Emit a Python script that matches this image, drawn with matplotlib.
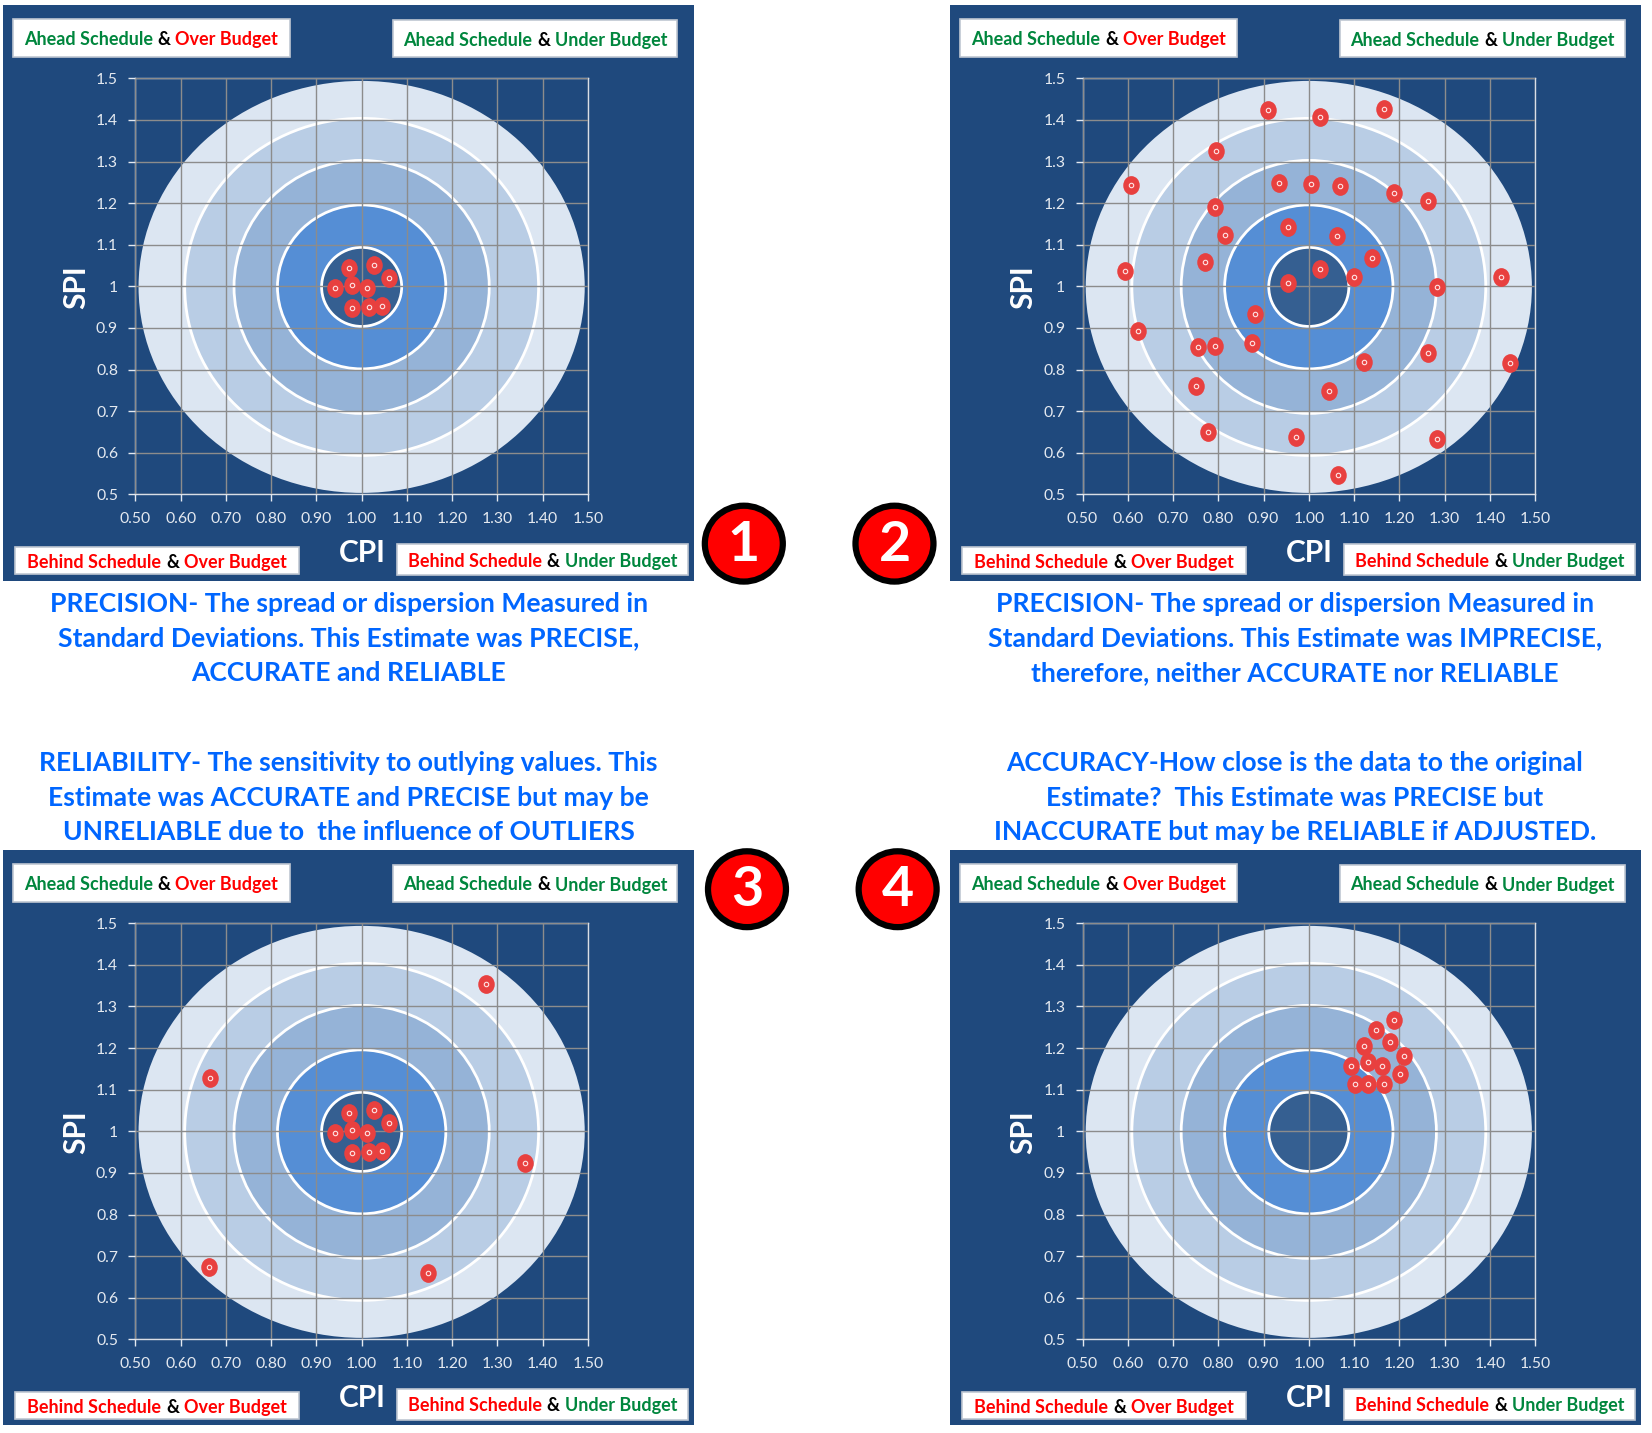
import matplotlib
matplotlib.use('Agg')
import matplotlib.pyplot as plt
from matplotlib.patches import Ellipse, Rectangle
from matplotlib.path import Path
from matplotlib.transforms import Affine2D

plt.rcParams['font.family'] = ['Lato', 'DejaVu Sans']

W, H = 1652, 1433
S = 1652 / 1568  # layout below was measured on the 1568 wide view

x_ticks = [0.5, 0.6, 0.7, 0.8, 0.9, 1.0, 1.1, 1.2, 1.3, 1.4, 1.5]
x_labels = ['0.50', '0.60', '0.70', '0.80', '0.90', '1.00', '1.10', '1.20', '1.30', '1.40', '1.50']
y_ticks = [0.5, 0.6, 0.7, 0.8, 0.9, 1.0, 1.1, 1.2, 1.3, 1.4, 1.5]
y_labels = ['0.5', '0.6', '0.7', '0.8', '0.9', '1', '1.1', '1.2', '1.3', '1.4', '1.5']

# target rings, outermost first
ring_rx = [0.493, 0.391, 0.282, 0.186, 0.0885]
ring_ry = [0.495, 0.405, 0.304, 0.197, 0.095]
ring_colors = ['#DCE6F2', '#B9CDE5', '#95B3D7', '#558ED5', '#355F91']

cpi_1 = [0.971, 1.027, 1.060, 0.941, 0.978, 1.011, 0.978, 1.016, 1.044]
spi_1 = [1.044, 1.052, 1.019, 0.996, 1.004, 0.996, 0.948, 0.951, 0.953]

cpi_2 = [0.909, 1.025, 1.167, 0.795, 0.608, 0.934, 1.004, 1.069, 1.188, 1.263, 0.792, 0.955,
         0.815, 1.062, 1.139, 0.771, 0.594, 1.025, 0.953, 1.100, 1.283, 1.425, 0.881, 0.622,
         0.874, 0.755, 0.792, 1.123, 1.263, 1.444, 0.750, 1.044, 0.778, 0.971, 1.283, 1.065]
spi_2 = [1.424, 1.406, 1.427, 1.325, 1.244, 1.249, 1.247, 1.242, 1.224, 1.204, 1.191, 1.143,
         1.123, 1.120, 1.067, 1.059, 1.037, 1.042, 1.009, 1.022, 0.999, 1.022, 0.933, 0.892,
         0.865, 0.854, 0.857, 0.819, 0.839, 0.816, 0.761, 0.748, 0.649, 0.639, 0.634, 0.546]

cpi_3 = cpi_1 + [1.274, 0.664, 1.360, 0.662, 1.146]
spi_3 = spi_1 + [1.353, 1.128, 0.925, 0.675, 0.659]

cpi_4 = [1.188, 1.148, 1.123, 1.179, 1.211, 1.093, 1.130, 1.162, 1.202, 1.102, 1.130, 1.167]
spi_4 = [1.267, 1.244, 1.206, 1.214, 1.181, 1.158, 1.166, 1.156, 1.138, 1.113, 1.113, 1.113]

captions = [
    'PRECISION- The spread or dispersion Measured in\nStandard Deviations. This Estimate was PRECISE,\nACCURATE and RELIABLE',
    'PRECISION- The spread or dispersion Measured in\nStandard Deviations. This Estimate was IMPRECISE,\ntherefore, neither ACCURATE nor RELIABLE',
    'RELIABILITY- The sensitivity to outlying values. This\nEstimate was ACCURATE and PRECISE but may be\nUNRELIABLE due to  the influence of OUTLIERS',
    'ACCURACY-How close is the data to the original\nEstimate?  This Estimate was PRECISE but\nINACCURATE but may be RELIABLE if ADJUSTED.',
]

GREEN = '#00863D'
RED = '#FF0000'
BLACK = '#000000'
NAVY = '#1F497D'
BLUE_TEXT = '#0066FF'

fig = plt.figure(figsize=(W / 100, H / 100), dpi=100)
page = fig.add_axes([0, 0, 1, 1])
page.set_xlim(0, 1568)
page.set_ylim(H / S, 0)
page.axis('off')

marker_shape = Path.unit_circle().transformed(Affine2D().scale(0.88, 1.0))


def mixed_label(x, y, parts, size=13):
    # one line of coloured pieces, centred on x
    renderer = fig.canvas.get_renderer()
    pieces = []
    total = 0
    for txt, col in parts:
        t = page.text(0, y, txt, color=col, fontsize=size, fontweight='bold',
                      ha='left', va='center', zorder=6)
        w = t.get_window_extent(renderer).width / S
        pieces.append((t, w))
        total += w
    gap = 4.5
    total += gap * (len(parts) - 1)
    cur = x - total / 2
    for t, w in pieces:
        t.set_x(cur)
        cur += w + gap


def label_box(x0, y0, x1, y1, parts):
    page.add_patch(Rectangle((x0, y0), x1 - x0, y1 - y0, fc='white', ec='#BFC7D2', lw=1.2, zorder=5))
    mixed_label((x0 + x1) / 2, (y0 + y1) / 2 + 1.5, parts)


def draw_panel(px, py, cpi, spi):
    page.add_patch(Rectangle((px, py), 656, 546, fc=NAVY, ec='none', zorder=0))

    ax = fig.add_axes([(px + 125.5) / 1568, 1 - (py + 464.3) * S / H, 429.5 / 1568, 395 * S / H])
    ax.patch.set_alpha(0)
    ax.set_xlim(0.5, 1.5)
    ax.set_ylim(0.5, 1.5)

    for i in range(len(ring_rx)):
        edge = 'none' if i == 0 else 'white'
        ax.add_patch(Ellipse((1, 0.9987), 2 * ring_rx[i], 2 * ring_ry[i], fc=ring_colors[i], ec=edge, lw=2.0, zorder=1))

    ax.set_xticks(x_ticks)
    ax.set_xticklabels(x_labels)
    ax.set_yticks(y_ticks)
    ax.set_yticklabels(y_labels)
    ax.grid(True, color='#8C8C8C', lw=1.0, zorder=2)
    ax.set_axisbelow(False)
    ax.tick_params(colors='#E4E9F0', labelsize=11.3, length=5, width=1.0, pad=7.5)
    for side in ax.spines:
        ax.spines[side].set_color('#D9DEE6')
        ax.spines[side].set_linewidth(1.0)

    ax.plot(cpi, spi, ls='none', marker=marker_shape, ms=13.5, mfc='#E8403F', mec='none', zorder=4)
    ax.plot(cpi, spi, ls='none', marker='o', ms=3.2, mfc='#E8403F', mec='#FFE3E3', mew=0.8, zorder=5)

    page.text(px + 69, py + 268, 'SPI', color='white', fontsize=21.5, fontweight='bold',
              rotation=90, ha='center', va='center', zorder=6)
    page.text(px + 340.5, py + 520, 'CPI', color='white', fontsize=21.5, fontweight='bold',
              ha='center', va='center', zorder=6)

    label_box(px + 9, py + 13, px + 272, py + 49, [('Ahead Schedule', GREEN), ('&', BLACK), ('Over Budget', RED)])
    label_box(px + 370, py + 14, px + 640, py + 49, [('Ahead Schedule', GREEN), ('&', BLACK), ('Under Budget', GREEN)])
    label_box(px + 11, py + 514, px + 281, py + 540, [('Behind Schedule', RED), ('&', BLACK), ('Over Budget', RED)])
    label_box(px + 374, py + 511, px + 650, py + 541, [('Behind Schedule', RED), ('&', BLACK), ('Under Budget', GREEN)])


def badge(x, y, num):
    page.add_patch(Ellipse((x, y), 74, 72, fc='#FF0000', ec='black', lw=4.5, zorder=6))
    page.text(x, y + 1, num, color='white', fontsize=40, fontweight='bold', ha='center', va='center', zorder=7)


draw_panel(3, 5, cpi_1, spi_1)
draw_panel(902, 5, cpi_2, spi_2)
draw_panel(3, 807, cpi_3, spi_3)
draw_panel(902, 807, cpi_4, spi_4)

badge(706, 516, '1')
badge(849, 516, '2')
badge(709, 844, '3')
badge(852, 844, '4')

caption_x = [331, 1229, 331, 1229]
caption_y = [606, 606, 757, 757]
for i in range(4):
    page.text(caption_x[i], caption_y[i], captions[i], color=BLUE_TEXT, fontsize=19.1, fontweight='bold',
              ha='center', va='center', linespacing=1.52, zorder=6)

fig.savefig('out.png', dpi=100)
